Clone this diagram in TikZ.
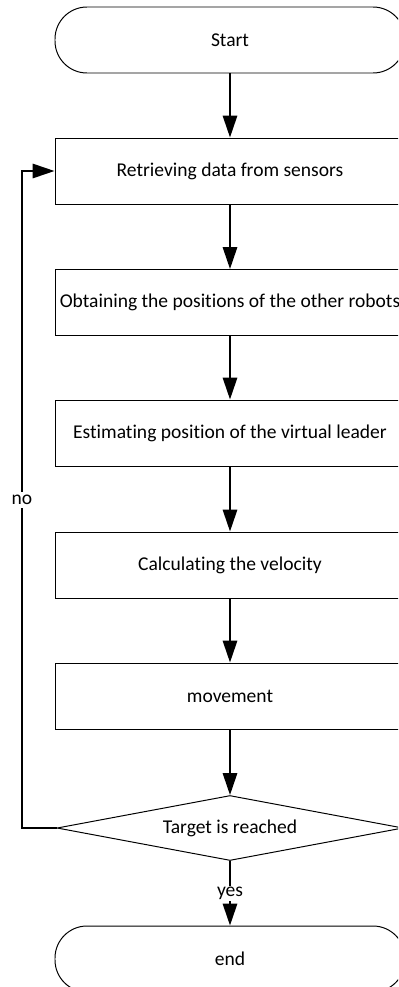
\documentclass[tikz,border=0pt]{standalone}
\usepackage{fontspec}
\setmainfont[Ligatures=NoCommon]{Carlito}
\usepackage{tikz}
\usetikzlibrary{shapes.geometric, arrows.meta}

\begin{document}
\begin{tikzpicture}[>={Triangle[length=0.55cm, width=0.36cm]},
    font=\fontsize{13.9}{16}\selectfont,
    term/.style={draw, line width=0.7pt, rounded corners=0.8cm,
        minimum width=8.75cm, minimum height=1.65cm},
    proc/.style={draw, line width=0.7pt,
        minimum width=8.75cm, minimum height=1.65cm},
    decide/.style={draw, diamond, line width=0.7pt, aspect=5.3, inner sep=0pt,
        minimum width=8.65cm, minimum height=1.625cm},
    flow/.style={->, line width=1.4pt}]
    % frame
    \useasboundingbox (0,0) rectangle (9.95,-24.675);
    \clip (0,0) rectangle (9.95,-24.675);

    % nodes
    \node[term] (start) at (5.75,-1.0) {Start};
    \node[proc] (read) at (5.75,-4.275) {Retrieving data from sensors};
    \node[proc] (others) at (5.75,-7.5625) {Obtaining the positions of the other robots};
    \node[proc] (leader) at (5.75,-10.825) {Estimating position of the virtual leader};
    \node[proc] (velo) at (5.75,-14.125) {Calculating the velocity};
    \node[proc] (move) at (5.75,-17.4) {movement};
    \node[decide] (target) at (5.75,-20.7) {Target is reached};
    \node[term] (end) at (5.75,-23.975) {end};

    % arrows
    \draw[flow] (start) -- (read);
    \draw[flow] (read) -- (others);
    \draw[flow] (others) -- (leader);
    \draw[flow] (leader) -- (velo);
    \draw[flow] (velo) -- (move);
    \draw[flow] (move) -- (target);
    \draw[flow] (target) -- node[fill=white, inner sep=1pt] (yes) {yes} (end);

    % loop back
    \coordinate (back) at (0.55,-20.7);
    \draw[flow] (target.west) -- (back) |- (read.west);
    \node[fill=white, inner sep=2pt] (no) at (0.55,-12.5) {no};
\end{tikzpicture}
\end{document}
